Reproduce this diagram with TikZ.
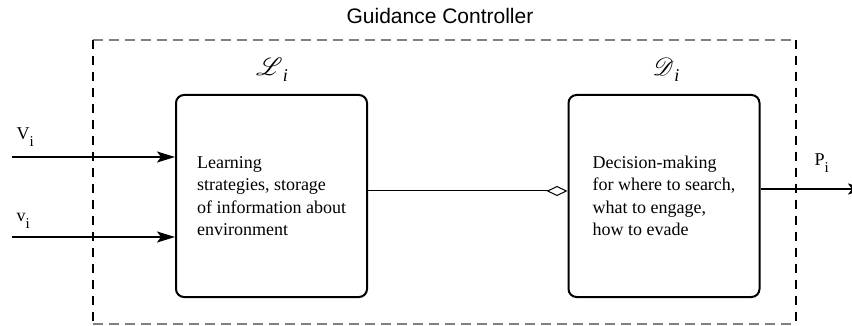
\documentclass[tikz,border=0pt]{standalone}
\usepackage{mathrsfs}
\usepackage{fontspec}
\setmainfont{Liberation Serif}
\newfontfamily\titlefont{Liberation Sans}
\usetikzlibrary{arrows.meta}
\newcommand{\lowsub}[1]{\raisebox{-7pt}{\fontsize{15}{15}\selectfont #1}}
\newcommand{\chname}[1]{{\fontsize{24}{24}\selectfont$\mathscr{#1}$\raisebox{-6pt}{\fontsize{18}{18}\selectfont\itshape i}}}

\begin{document}
\begin{tikzpicture}[x=1pt,y=-1pt,every node/.style={font=\fontsize{18}{22.5}\selectfont},
  blk/.style={draw,line width=2pt,rounded corners=8pt,minimum width=191pt,minimum height=202pt,align=left,inner sep=0pt},
  sig/.style={line width=2pt,-{Stealth[length=18pt,width=11pt,inset=4pt]}},
  frameside/.style={line width=2pt,dash pattern=on 9pt off 7pt},
  frametop/.style={line width=1.5pt,gray,dash pattern=on 10pt off 6pt}]
\useasboundingbox (0,0) rectangle (852,326);
\node[font={\titlefont\fontsize{21}{24}\selectfont}] (title) at (440,16) {Guidance Controller};
\coordinate (gtl) at (93,40);
\coordinate (gbr) at (796,324);
\draw[frametop] (gtl) -- (gtl -| gbr);
\draw[frametop] (gtl |- gbr) -- (gbr);
\draw[frameside] (gtl) -- (gtl |- gbr);
\draw[frameside] (gtl -| gbr) -- (gbr);
\node[blk] (learn) at (271.5,196) {Learning\\strategies, storage\\of information about\\environment};
\node[blk] (decide) at (664,196) {Decision-making\\for where to search,\\what to engage,\\how to evade};
\node (lname) at (272,70) {\chname{L}};
\node (dname) at (666,70) {\chname{D}};
\coordinate (vin1) at (12,157);
\coordinate (vin2) at (12,237);
\coordinate (pout) at (866,189);
\draw[sig] (vin1) -- (vin1 -| learn.west);
\draw[sig] (vin2) -- (vin2 -| learn.west);
\draw[line width=1pt,-{Diamond[open,length=21pt,width=10pt]}] ([yshift=5pt]learn.east) -- ([yshift=5pt]decide.west);
\draw[sig] (pout -| decide.east) -- (pout);
\node[anchor=base west] (vlab1) at (13,140) {V\lowsub{i}};
\node[anchor=base west] (vlab2) at (13,222) {v\lowsub{i}};
\node[anchor=base west] (plab) at (811,166) {P\lowsub{i}};
\end{tikzpicture}
\end{document}
